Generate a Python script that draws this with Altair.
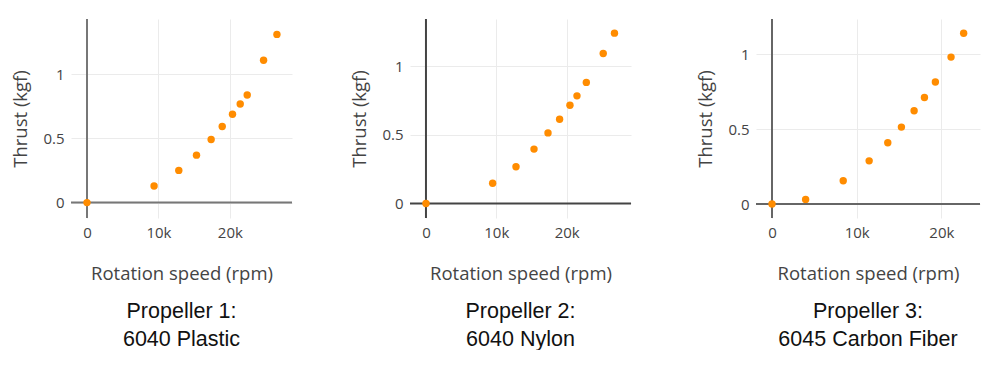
import altair as alt
import pandas as pd

# Propeller 1: 6040 Plastic
p1_rpm = [0, 9390, 12850, 15330, 17380, 18930, 20370, 21450, 22430, 24720, 26590]
p1_thrust = [0, 0.130, 0.251, 0.370, 0.492, 0.593, 0.689, 0.769, 0.839, 1.109, 1.311]

# Propeller 2: 6040 Nylon
p2_rpm = [0, 9480, 12800, 15360, 17350, 19000, 20470, 21470, 22800, 25200, 26800]
p2_thrust = [0, 0.147, 0.268, 0.396, 0.514, 0.614, 0.715, 0.784, 0.882, 1.093, 1.241]

# Propeller 3: 6045 Carbon Fiber
p3_rpm = [0, 3970, 8410, 11470, 13670, 15280, 16780, 18000, 19290, 21140, 22630]
p3_thrust = [0, 0.031, 0.155, 0.288, 0.409, 0.513, 0.622, 0.710, 0.814, 0.980, 1.139]

x_ticks = [0, 10000, 20000]
y_ticks = [0, 0.5, 1]

titles = [["Propeller 1:", "6040 Plastic"],
          ["Propeller 2:", "6040 Nylon"],
          ["Propeller 3:", "6045 Carbon Fiber"]]

ORANGE = "#ff8c00"


def panel(xs, ys, xdom, ydom, title, zero_color, width, key):
    df = pd.DataFrame({"rpm": xs, "thrust": ys})
    zdf = pd.DataFrame({"rpm": [0], "thrust": [0], "panel": [key]})
    xscale = alt.Scale(domain=xdom, nice=False, zero=False)
    yscale = alt.Scale(domain=ydom, nice=False, zero=False)
    xaxis = alt.Axis(values=x_ticks, title="Rotation speed (rpm)",
                     labelExpr="datum.value == 0 ? '0' : format(datum.value / 1000, 'd') + 'k'",
                     grid=True, domain=False, ticks=False, labelPadding=7,
                     titlePadding=24)
    yaxis = alt.Axis(values=y_ticks, title="Thrust (kgf)", grid=True,
                     domain=False, ticks=False, labelPadding=7, titlePadding=12,
                     labelExpr="datum.value == 0 ? '0' : format(datum.value, '')")
    vzero = alt.Chart(zdf).mark_rule(color=zero_color, strokeWidth=2).encode(
        x=alt.X("rpm:Q", scale=xscale, axis=xaxis))
    hzero = alt.Chart(zdf).mark_rule(color=zero_color, strokeWidth=2).encode(
        y=alt.Y("thrust:Q", scale=yscale, axis=yaxis))
    pts = alt.Chart(df).mark_circle(size=55, color=ORANGE, opacity=1).encode(
        x=alt.X("rpm:Q", scale=xscale, axis=xaxis),
        y=alt.Y("thrust:Q", scale=yscale, axis=yaxis),
    )
    return alt.layer(vzero, hzero, pts).properties(
        width=width, height=199,
        title=alt.TitleParams(text=title, orient="bottom", anchor="middle",
                              font="Liberation Sans", fontSize=21.5,
                              fontWeight="normal", color="#111",
                              lineHeight=28, offset=18),
    )


c1 = panel(p1_rpm, p1_thrust, [-2240, 28700], [-0.12, 1.431], titles[0], "#777777", 221, 1)
c2 = panel(p2_rpm, p2_thrust, [-2270, 29150], [-0.106, 1.344], titles[1], "#444444", 221, 2)
c3 = panel(p3_rpm, p3_thrust, [-1890, 24560], [-0.093, 1.234], titles[2], "#666666", 224, 3)

chart = alt.hconcat(alt.hconcat(c1, c2, spacing=57), c3, spacing=64).properties(
    padding={"left": 3, "top": 10, "right": 0, "bottom": 0}
).configure_view(stroke=None).configure_axis(
    labelFont="Open Sans", labelFontSize=15, labelColor="#444",
    titleFont="Open Sans", titleFontSize=18.5, titleFontWeight="normal",
    titleColor="#444", gridColor="#ebebeb", gridWidth=1,
)

chart.save("out.html", embed_options={"renderer": "svg", "actions": False})
